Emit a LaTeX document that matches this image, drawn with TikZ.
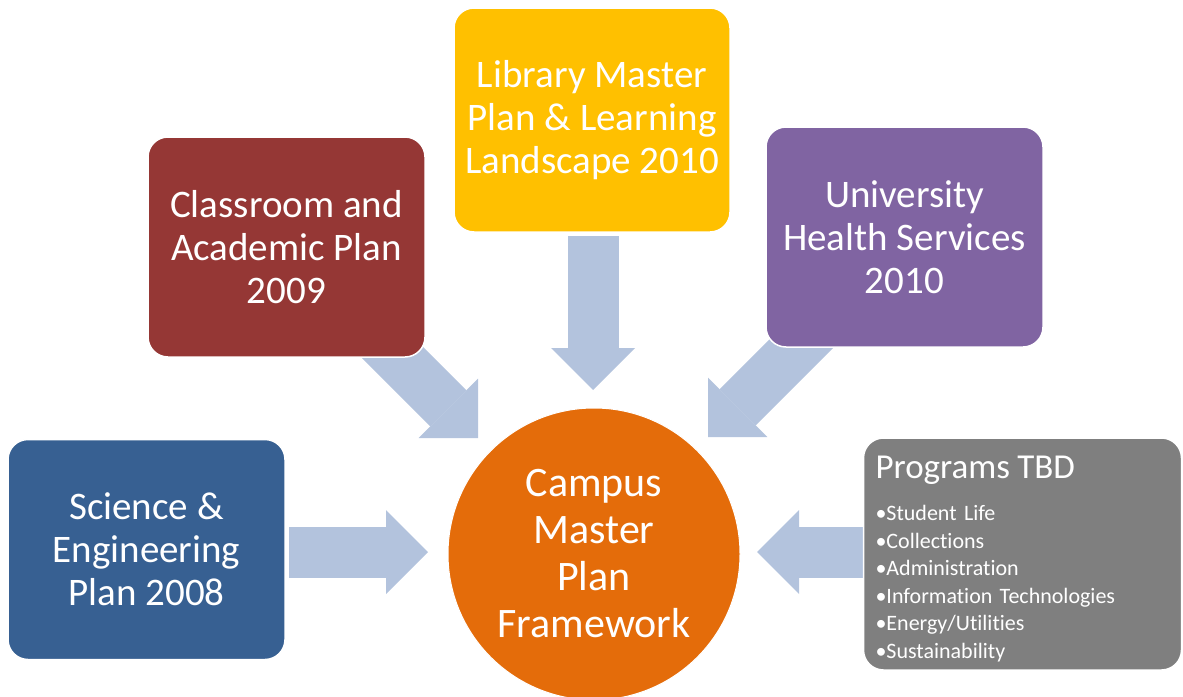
\documentclass[tikz,border=0pt]{standalone}
\usepackage{fontspec}
\setmainfont{Carlito}[Ligatures=NoCommon]
\usetikzlibrary{arrows.meta,backgrounds}
\definecolor{sciblue}{HTML}{376092}
\definecolor{clsred}{HTML}{953735}
\definecolor{libyellow}{HTML}{FFC000}
\definecolor{uhspurple}{HTML}{8064A2}
\definecolor{tbdgray}{HTML}{7F7F7F}
\definecolor{cmporange}{HTML}{E46C0A}
\definecolor{arrowblue}{HTML}{B3C3DD}
\tikzset{
  plan/.style={rounded corners=20pt, draw=white, line width=1.5pt, text=white,
    minimum width=277pt, minimum height=220pt, align=center, inner sep=0pt,
    font=\fontsize{39}{43}\selectfont},
  fat/.style={draw=arrowblue, line width=51pt,
    -{Triangle[length=42pt,width=84pt,line width=0pt]}},
}
\begin{document}
\begin{tikzpicture}[x=1pt,y=-1pt]
\useasboundingbox (0,0) rectangle (1183,696);
\node[plan, fill=sciblue] (sci) at (146.5,549.5) {Science \&\\Engineering\\Plan 2008};
\node[plan, fill=clsred] (cls) at (286.5,247) {Classroom and\\Academic Plan\\2009};
\node[plan, fill=libyellow, minimum width=276pt, minimum height=224pt] (lib) at (592,120) {Library Master\\Plan \& Learning\\Landscape 2010};
\node[plan, fill=uhspurple] (uhs) at (904.5,237) {University\\Health Services\\2010};
\node[plan, fill=tbdgray, minimum width=318pt, minimum height=232pt, text width=294pt, align=left,
  font=\fontsize{22}{27.5}\selectfont] (tbd) at (1022.5,554)
  {\rule{0pt}{33pt}{\fontsize{35}{40}\selectfont Programs TBD}\\[14.5pt]
   •Student Life\\•Collections\\•Administration\\•Information Technologies\\•Energy/Utilities\\•Sustainability};
\node[circle, fill=cmporange, draw=white, line width=1pt, minimum size=292pt, inner sep=0pt,
  text=white, align=center, font=\fontsize{42}{47}\selectfont] (cmp) at (594,554)
  {Campus\\Master\\Plan\\Framework};
% arrow end points
\coordinate (sciout) at (289,552);
\coordinate (cmpW) at (428,552);
\coordinate (clsout) at (373,333);
\coordinate (cmpNW) at (478,438);
\coordinate (libout) at (593,236);
\coordinate (cmpN) at (593,390);
\coordinate (uhsout) at (818,327);
\coordinate (cmpNE) at (708,437);
\coordinate (tbdout) at (868,552);
\coordinate (cmpE) at (757,552);
\begin{pgfonlayer}{background}
\draw[fat] (sciout) -- (cmpW);
\draw[fat] (clsout) -- (cmpNW);
\draw[fat] (libout) -- (cmpN);
\draw[fat] (uhsout) -- (cmpNE);
\draw[fat] (tbdout) -- (cmpE);
\end{pgfonlayer}
\end{tikzpicture}
\end{document}
